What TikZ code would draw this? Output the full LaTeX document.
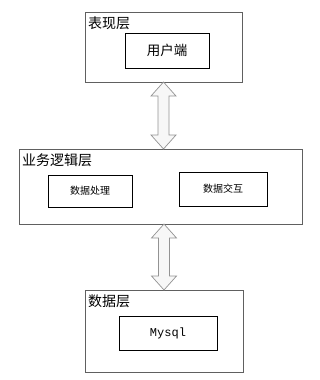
\documentclass[tikz,border=0pt]{standalone}
\usepackage{fontspec}
\newfontfamily\cjk{Noto Sans CJK SC}
\newfontfamily\monofont{Liberation Mono}
\usepackage{tikz}
\usetikzlibrary{positioning, calc}
\tikzstyle{layer} = [rectangle,
outer sep=0pt,
draw=gray!75!black,
line width=0.8pt,
fill=white]
\tikzstyle{module} = [rectangle,
outer sep=0pt,
text centered,
draw=black,
line width=0.8pt,
fill=white,
font=\cjk\fontsize{10}{12}\selectfont]
\tikzstyle{title} = [anchor=north west, inner sep=0pt, font=\cjk\fontsize{14}{16}\selectfont]
\tikzstyle{bigarrow} = [draw=gray!85, line width=0.7pt, fill=gray!6, line join=miter]

\begin{document}
\begin{tikzpicture}[x=1pt, y=-1pt]
            \useasboundingbox (0,0) rectangle (320,380);
            % presentation layer
            \node (pres) [layer, minimum width=157pt, minimum height=70pt] at (163.5,47) {};
            \node (presT) [title] at ($(pres.north west)+(3,5)$) {表现层};
            \node (client) [module, minimum width=84pt, minimum height=35pt,
                font=\cjk\fontsize{13.5}{16}\selectfont] at (167,50.5) {用户端};

            % business logic layer
            \node (logic) [layer, minimum width=283pt, minimum height=75pt] at (160.5,186.5) {};
            \node (logicT) [title] at ($(logic.north west)+(3,5)$) {业务逻辑层};
            \node (proc) [module, minimum width=84pt, minimum height=32pt] at (90,191) {数据处理};
            \node (inter) [module, minimum width=88pt, minimum height=34pt] at (223,189) {数据交互};

            % data layer
            \node (data) [layer, minimum width=158pt, minimum height=82pt] at (164,331) {};
            \node (dataT) [title] at ($(data.north west)+(3,5)$) {数据层};
            \node (mysql) [module, minimum width=98pt, minimum height=34pt,
                font=\monofont\fontsize{12}{14}\selectfont] at (168,333) {Mysql};

            % double arrows between layers
            \coordinate (logicN) at (logic.north -| pres.south);
            \coordinate (logicS) at (logic.south -| data.north);
            \draw [bigarrow] (pres.south) -- ++(12.5,14) -- ++(-7,0)
                -- ($(logicN)+(5.5,-14)$) -- ++(7,0) -- (logicN)
                -- ++(-12.5,-14) -- ++(7,0) -- ($(pres.south)+(-5.5,14)$) -- ++(-7,0) -- cycle;
            \draw [bigarrow] (logicS) -- ++(12.5,14) -- ++(-7,0)
                -- ($(data.north)+(5.5,-14)$) -- ++(7,0) -- (data.north)
                -- ++(-12.5,-14) -- ++(7,0) -- ($(logicS)+(-5.5,14)$) -- ++(-7,0) -- cycle;
        \end{tikzpicture}
\end{document}
